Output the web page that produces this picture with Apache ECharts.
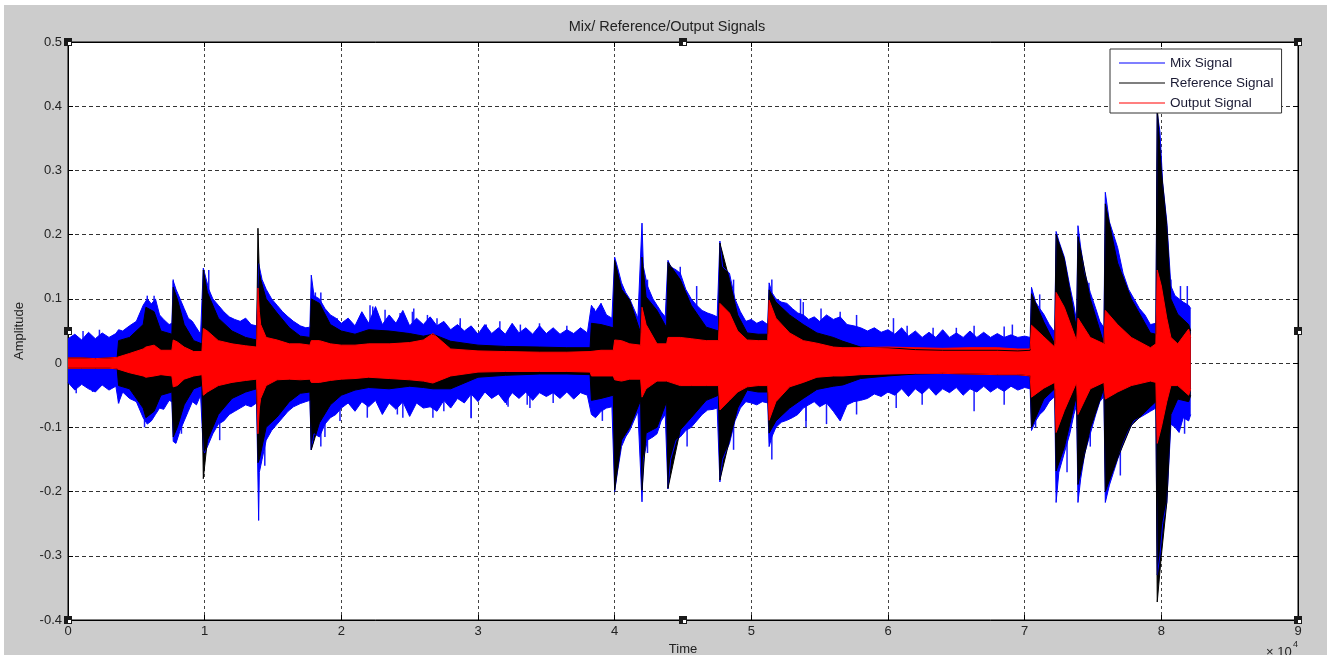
<!DOCTYPE html>
<html>
<head>
<meta charset="utf-8">
<script src="https://cdn.jsdelivr.net/npm/echarts@6/dist/echarts.min.js"></script>
<style>
html,body{margin:0;padding:0;background:#ffffff;overflow:hidden;}
#chart{width:1334px;height:655px;}
</style>
</head>
<body>
<div id="chart"></div>
<script>
// ---- Mix signal (blue): envelope (time in x10^4 samples)
const mixTimes = [0.00,0.05,0.10,0.15,0.20,0.25,0.30,0.35,0.37,0.40,0.45,0.50,0.55,0.58,0.61,0.64,0.67,0.70,0.74,0.76,0.77,0.79,0.82,0.85,0.88,0.91,0.94,0.97,0.99,1.00,1.03,1.06,1.10,1.14,1.18,1.22,1.26,1.30,1.34,1.38,1.395,1.40,1.42,1.45,1.49,1.53,1.57,1.61,1.65,1.70,1.74,1.77,1.78,1.80,1.84,1.88,1.92,1.96,2.00,2.05,2.10,2.15,2.20,2.25,2.30,2.35,2.40,2.45,2.50,2.55,2.60,2.65,2.70,2.75,2.80,2.85,2.90,2.95,3.00,3.05,3.10,3.15,3.20,3.25,3.30,3.35,3.40,3.45,3.50,3.55,3.60,3.65,3.70,3.75,3.80,3.83,3.86,3.90,3.94,3.98,4.00,4.02,4.05,4.08,4.11,4.14,4.17,4.20,4.21,4.24,4.28,4.31,4.34,4.37,4.39,4.41,4.45,4.48,4.52,4.56,4.60,4.64,4.68,4.72,4.75,4.77,4.79,4.84,4.88,4.92,4.96,5.00,5.04,5.08,5.12,5.13,5.15,5.18,5.22,5.26,5.30,5.34,5.38,5.42,5.46,5.50,5.55,5.60,5.65,5.70,5.75,5.80,5.85,5.90,5.95,6.00,6.05,6.10,6.15,6.20,6.25,6.30,6.35,6.40,6.45,6.50,6.55,6.60,6.65,6.70,6.75,6.80,6.85,6.90,6.95,7.00,7.04,7.05,7.08,7.11,7.14,7.18,7.22,7.23,7.25,7.29,7.33,7.36,7.38,7.39,7.41,7.44,7.48,7.52,7.55,7.58,7.59,7.62,7.65,7.68,7.72,7.76,7.80,7.84,7.88,7.92,7.96,7.97,7.99,8.01,8.04,8.07,8.10,8.13,8.16,8.20,8.215];
const mixUpper = [0.038,0.045,0.036,0.048,0.038,0.047,0.040,0.046,0.052,0.050,0.058,0.065,0.090,0.100,0.092,0.100,0.075,0.068,0.060,0.062,0.128,0.115,0.100,0.085,0.070,0.065,0.055,0.045,0.148,0.140,0.115,0.100,0.090,0.080,0.072,0.068,0.065,0.070,0.060,0.058,0.155,0.150,0.130,0.115,0.100,0.090,0.080,0.072,0.065,0.058,0.055,0.056,0.137,0.105,0.100,0.085,0.075,0.070,0.062,0.070,0.058,0.080,0.062,0.088,0.060,0.075,0.062,0.082,0.058,0.070,0.060,0.072,0.058,0.065,0.052,0.060,0.050,0.058,0.045,0.060,0.046,0.055,0.045,0.062,0.047,0.055,0.045,0.058,0.046,0.055,0.045,0.052,0.046,0.055,0.047,0.090,0.080,0.093,0.075,0.070,0.165,0.150,0.125,0.110,0.100,0.085,0.070,0.218,0.150,0.120,0.100,0.090,0.080,0.072,0.160,0.150,0.145,0.140,0.115,0.100,0.090,0.082,0.078,0.075,0.072,0.190,0.150,0.140,0.100,0.080,0.065,0.068,0.062,0.066,0.060,0.125,0.110,0.100,0.095,0.093,0.085,0.078,0.075,0.068,0.072,0.065,0.075,0.068,0.072,0.060,0.058,0.055,0.050,0.055,0.048,0.052,0.045,0.055,0.042,0.050,0.040,0.048,0.040,0.052,0.040,0.047,0.040,0.050,0.040,0.048,0.040,0.046,0.040,0.044,0.040,0.042,0.040,0.118,0.095,0.085,0.076,0.060,0.048,0.205,0.190,0.165,0.120,0.090,0.065,0.214,0.180,0.140,0.110,0.085,0.065,0.055,0.266,0.220,0.200,0.180,0.140,0.115,0.100,0.085,0.075,0.060,0.062,0.390,0.360,0.280,0.220,0.120,0.105,0.100,0.095,0.090,0.085];
const mixLower = [-0.030,-0.042,-0.033,-0.040,-0.045,-0.034,-0.042,-0.036,-0.062,-0.045,-0.055,-0.060,-0.085,-0.095,-0.090,-0.080,-0.070,-0.072,-0.058,-0.060,-0.122,-0.125,-0.105,-0.090,-0.075,-0.060,-0.065,-0.050,-0.135,-0.140,-0.125,-0.110,-0.095,-0.090,-0.080,-0.075,-0.070,-0.065,-0.068,-0.062,-0.245,-0.170,-0.150,-0.120,-0.105,-0.095,-0.085,-0.075,-0.068,-0.063,-0.060,-0.058,-0.135,-0.110,-0.115,-0.095,-0.085,-0.080,-0.070,-0.062,-0.075,-0.060,-0.068,-0.058,-0.080,-0.062,-0.072,-0.060,-0.083,-0.062,-0.070,-0.068,-0.075,-0.058,-0.070,-0.055,-0.062,-0.048,-0.060,-0.045,-0.055,-0.048,-0.062,-0.046,-0.055,-0.045,-0.058,-0.046,-0.052,-0.046,-0.055,-0.045,-0.056,-0.046,-0.050,-0.080,-0.085,-0.075,-0.070,-0.068,-0.200,-0.170,-0.130,-0.115,-0.105,-0.090,-0.075,-0.216,-0.150,-0.120,-0.115,-0.110,-0.090,-0.080,-0.196,-0.150,-0.120,-0.115,-0.105,-0.100,-0.090,-0.080,-0.073,-0.072,-0.070,-0.185,-0.150,-0.125,-0.090,-0.070,-0.060,-0.062,-0.065,-0.060,-0.062,-0.130,-0.115,-0.100,-0.092,-0.089,-0.085,-0.080,-0.070,-0.065,-0.060,-0.068,-0.062,-0.075,-0.090,-0.065,-0.060,-0.058,-0.055,-0.048,-0.052,-0.045,-0.050,-0.040,-0.052,-0.040,-0.048,-0.038,-0.050,-0.040,-0.046,-0.038,-0.050,-0.040,-0.045,-0.036,-0.045,-0.038,-0.044,-0.036,-0.042,-0.038,-0.040,-0.105,-0.090,-0.080,-0.074,-0.060,-0.052,-0.217,-0.170,-0.140,-0.110,-0.080,-0.065,-0.217,-0.180,-0.140,-0.110,-0.080,-0.060,-0.052,-0.217,-0.190,-0.170,-0.150,-0.125,-0.105,-0.090,-0.085,-0.080,-0.075,-0.070,-0.330,-0.300,-0.250,-0.217,-0.095,-0.100,-0.108,-0.085,-0.090,-0.080];

// ---- Isolated thin spikes of the Mix signal
const mixSpikeTimes = [0.06,0.11,0.18,0.23,0.37,0.56,0.58,0.63,0.77,0.83,1.03,1.11,1.44,1.78,1.81,1.85,1.85,1.88,1.97,1.99,2.19,2.21,2.23,2.32,2.41,2.43,2.45,2.52,2.53,2.63,2.67,2.70,2.75,2.87,2.87,2.95,2.95,3.06,3.16,3.21,3.22,3.31,3.36,3.38,3.45,3.55,3.65,3.85,3.90,3.91,4.24,4.24,4.48,4.53,4.60,4.87,4.87,5.15,5.15,5.36,5.38,5.40,5.40,5.51,5.55,5.65,5.77,5.77,6.04,6.06,6.14,6.25,6.33,6.50,6.63,6.63,6.85,6.85,6.91,7.08,7.11,7.31,7.47,7.48,7.70,7.75,8.04,8.07,8.14,8.17,8.19];
const mixSpikeValues = [-0.047,0.050,-0.045,0.052,-0.063,-0.100,0.105,0.105,0.130,-0.110,0.145,-0.120,-0.160,-0.135,0.110,0.110,-0.130,-0.115,0.070,-0.090,-0.085,0.090,0.088,0.083,-0.080,0.078,-0.085,0.080,0.085,0.075,-0.085,0.070,-0.075,0.063,0.070,-0.085,-0.086,0.060,0.065,-0.065,-0.068,0.060,-0.065,-0.070,0.062,-0.062,0.058,0.085,0.093,-0.090,0.130,-0.140,0.150,-0.130,0.120,0.130,-0.135,0.130,-0.150,0.100,0.095,-0.090,-0.100,0.085,-0.095,0.080,0.075,-0.080,0.070,-0.070,0.058,-0.065,0.055,0.055,0.058,-0.075,0.057,-0.065,0.060,-0.100,0.107,-0.170,0.125,-0.130,-0.175,0.120,-0.200,0.130,0.120,-0.110,0.120];

// ---- Reference (black) and Output (red) signals: envelopes on shared knots
const envTimes = [0.00,0.10,0.20,0.30,0.36,0.37,0.45,0.55,0.57,0.63,0.68,0.76,0.77,0.80,0.85,0.92,0.98,0.99,1.02,1.10,1.20,1.30,1.38,1.39,1.40,1.41,1.45,1.53,1.62,1.70,1.77,1.78,1.84,1.92,2.00,2.10,2.20,2.35,2.50,2.60,2.67,2.80,3.00,3.20,3.45,3.65,3.82,3.83,3.90,3.99,4.00,4.05,4.11,4.19,4.20,4.23,4.31,4.38,4.39,4.48,4.56,4.67,4.76,4.77,4.84,4.90,4.97,5.05,5.12,5.13,5.18,5.28,5.38,5.48,5.60,5.67,5.80,6.00,6.20,6.40,6.60,6.80,6.95,7.04,7.05,7.14,7.22,7.23,7.29,7.38,7.39,7.48,7.58,7.59,7.68,7.78,7.92,7.96,7.97,8.00,8.04,8.07,8.12,8.20,8.215];
const refUpper = [0.008,0.008,0.007,0.008,0.009,0.035,0.040,0.060,0.087,0.080,0.050,0.045,0.118,0.100,0.060,0.035,0.030,0.145,0.110,0.070,0.050,0.040,0.036,0.210,0.140,0.130,0.100,0.078,0.055,0.042,0.040,0.100,0.093,0.060,0.050,0.045,0.052,0.050,0.046,0.042,0.045,0.034,0.028,0.026,0.025,0.024,0.024,0.062,0.060,0.055,0.160,0.115,0.098,0.047,0.165,0.103,0.082,0.055,0.157,0.130,0.090,0.056,0.050,0.187,0.130,0.075,0.047,0.045,0.045,0.114,0.095,0.075,0.060,0.047,0.040,0.034,0.025,0.024,0.021,0.020,0.020,0.020,0.019,0.020,0.108,0.064,0.030,0.200,0.162,0.053,0.197,0.100,0.030,0.248,0.156,0.100,0.047,0.045,0.400,0.300,0.214,0.100,0.076,0.060,0.050];
const refLower = [-0.008,-0.008,-0.008,-0.008,-0.009,-0.035,-0.040,-0.070,-0.085,-0.075,-0.050,-0.045,-0.115,-0.100,-0.065,-0.040,-0.035,-0.180,-0.120,-0.080,-0.055,-0.045,-0.040,-0.155,-0.150,-0.150,-0.100,-0.084,-0.060,-0.047,-0.045,-0.135,-0.093,-0.065,-0.050,-0.042,-0.038,-0.040,-0.036,-0.038,-0.040,-0.040,-0.022,-0.019,-0.017,-0.017,-0.018,-0.058,-0.055,-0.050,-0.198,-0.120,-0.100,-0.058,-0.198,-0.109,-0.100,-0.060,-0.195,-0.104,-0.085,-0.058,-0.050,-0.182,-0.120,-0.070,-0.042,-0.045,-0.045,-0.109,-0.090,-0.070,-0.055,-0.041,-0.036,-0.034,-0.024,-0.020,-0.017,-0.016,-0.017,-0.018,-0.018,-0.020,-0.100,-0.056,-0.040,-0.168,-0.131,-0.050,-0.189,-0.102,-0.039,-0.200,-0.148,-0.097,-0.068,-0.060,-0.372,-0.300,-0.217,-0.080,-0.056,-0.060,-0.050];
const outUpper = [0.008,0.008,0.007,0.008,0.009,0.012,0.015,0.022,0.025,0.028,0.020,0.020,0.036,0.033,0.025,0.018,0.018,0.054,0.050,0.035,0.030,0.027,0.025,0.117,0.080,0.060,0.040,0.036,0.030,0.030,0.028,0.035,0.035,0.030,0.028,0.028,0.030,0.030,0.032,0.036,0.046,0.022,0.019,0.018,0.017,0.017,0.018,0.020,0.020,0.020,0.036,0.035,0.030,0.028,0.087,0.060,0.030,0.030,0.040,0.040,0.038,0.035,0.035,0.093,0.078,0.050,0.036,0.035,0.035,0.098,0.070,0.047,0.035,0.031,0.025,0.024,0.024,0.025,0.024,0.023,0.024,0.024,0.022,0.022,0.059,0.041,0.025,0.110,0.087,0.035,0.070,0.040,0.030,0.082,0.060,0.040,0.024,0.030,0.145,0.120,0.070,0.040,0.030,0.053,0.040];
const outLower = [-0.008,-0.008,-0.008,-0.008,-0.009,-0.012,-0.015,-0.020,-0.022,-0.020,-0.018,-0.020,-0.037,-0.035,-0.025,-0.020,-0.018,-0.050,-0.045,-0.035,-0.030,-0.027,-0.025,-0.110,-0.070,-0.055,-0.035,-0.026,-0.025,-0.026,-0.025,-0.030,-0.030,-0.027,-0.025,-0.024,-0.022,-0.024,-0.026,-0.028,-0.031,-0.020,-0.014,-0.013,-0.013,-0.013,-0.014,-0.020,-0.020,-0.020,-0.026,-0.028,-0.025,-0.025,-0.053,-0.040,-0.028,-0.028,-0.030,-0.035,-0.035,-0.035,-0.035,-0.073,-0.058,-0.045,-0.037,-0.035,-0.035,-0.089,-0.060,-0.037,-0.030,-0.022,-0.020,-0.020,-0.018,-0.017,-0.016,-0.016,-0.017,-0.018,-0.018,-0.020,-0.053,-0.039,-0.030,-0.108,-0.074,-0.030,-0.080,-0.040,-0.030,-0.056,-0.045,-0.035,-0.028,-0.030,-0.125,-0.100,-0.060,-0.035,-0.035,-0.050,-0.040];

const xTicks = [0,1,2,3,4,5,6,7,8,9];
const yTicks = [-0.4,-0.3,-0.2,-0.1,0,0.1,0.2,0.3,0.4,0.5];
const seriesNames = ['Mix Signal','Reference Signal','Output Signal'];
const seriesColors = ['#0000ff','#000000','#ff0000'];

const FONT = '"Liberation Sans", Arial, sans-serif';
const pair = (ts, arr) => ts.map((t,i) => [t, arr[i]]);

function band(name, color, data) {
  return {
    name: name, type: 'line', data: data, symbol: 'none', showSymbol: false,
    lineStyle: {color: color, width: 1}, itemStyle: {color: color},
    areaStyle: {color: color, opacity: 1, origin: 0},
    animation: false, silent: true, xAxisIndex: 0, yAxisIndex: 0
  };
}
const series = [
  band(seriesNames[0], seriesColors[0], pair(mixTimes, mixUpper)),
  band(seriesNames[0], seriesColors[0], pair(mixTimes, mixLower)),
  {
    name: seriesNames[0], type: 'bar', data: pair(mixSpikeTimes, mixSpikeValues),
    barWidth: 1.5, itemStyle: {color: '#1a1aff'}, animation: false, silent: true,
    xAxisIndex: 0, yAxisIndex: 0
  },
  band(seriesNames[1], seriesColors[1], pair(envTimes, refUpper)),
  band(seriesNames[1], seriesColors[1], pair(envTimes, refLower)),
  band(seriesNames[2], seriesColors[2], pair(envTimes, outUpper)),
  band(seriesNames[2], seriesColors[2], pair(envTimes, outLower))
];

const GL = 68, GT = 42, GW = 1230, GH = 578;
function handle(cx, cy) {
  return [
    {type:'rect', shape:{x:cx-4, y:cy-4, width:8, height:8}, style:{fill:'#1a1a1a'}, z:100, silent:true},
    {type:'rect', shape:{x:cx, y:cy, width:3, height:3}, style:{fill:'#ffffff'}, z:101, silent:true}
  ];
}
const handles = [].concat(
  handle(GL, GT), handle(GL+GW/2, GT), handle(GL+GW, GT),
  handle(GL, GT+GH/2), handle(GL+GW, GT+GH/2),
  handle(GL, GT+GH), handle(GL+GW/2, GT+GH), handle(GL+GW, GT+GH)
);

const chart = echarts.init(document.getElementById('chart'), null, {renderer:'canvas'});
const tick = {show: true, inside: true, length: 5, lineStyle: {color: '#000000'}};
chart.setOption({
  animation: false,
  backgroundColor: '#ffffff',
  textStyle: {fontFamily: FONT},
  title: {
    text: 'Mix/ Reference/Output Signals', left: 'center', top: 14,
    textStyle: {fontFamily: FONT, fontSize: 14.5, fontWeight: 'normal', color: '#222222'}
  },
  legend: {
    data: seriesNames, orient: 'vertical', left: 1110, top: 49,
    padding: [7, 8, 3, 9], itemGap: 6, itemWidth: 46, itemHeight: 12,
    borderColor: '#333333', borderWidth: 1, borderRadius: 0, backgroundColor: '#ffffff',
    textStyle: {fontFamily: FONT, fontSize: 13.5, color: '#1a1a33'},
    selectedMode: false, icon: 'path://M0,0 L46,0 L46,1.2 L0,1.2 Z',
    itemStyle: {opacity: 1},
    z: 50
  },
  graphic: [
    {type:'rect', shape:{x:4, y:5, width:1323, height:660}, style:{fill:'#cccccc'}, z:-10, silent:true}
  ].concat(handles).concat([
    {type:'text', left: 1266, top: 646, style:{text:'\u00d7 10', font:'13px "Liberation Sans", Arial', fill:'#222222'}, z:100, silent:true},
    {type:'text', left: 1293, top: 640, style:{text:'4', font:'9px "Liberation Sans", Arial', fill:'#222222'}, z:100, silent:true}
  ]),
  grid: {left: GL, top: GT, width: GW, height: GH, show: true, backgroundColor: '#ffffff', borderColor: '#000000', borderWidth: 1, containLabel: false, outerBoundsMode: 'none'},
  xAxis: [{
    type: 'value', min: xTicks[0], max: xTicks[xTicks.length-1], interval: 1,
    name: 'Time', nameLocation: 'middle', nameGap: 22,
    nameTextStyle: {fontFamily: FONT, fontSize: 13, color: '#222222'},
    axisLine: {show: true, onZero: false, lineStyle: {color: '#000000', width: 1}},
    axisTick: tick,
    axisLabel: {fontFamily: FONT, fontSize: 13, color: '#222222', margin: 5},
    splitLine: {show: true, lineStyle: {color:'#444444', type:[3,3], width:1}}
  },{
    type: 'value', position: 'top', min: xTicks[0], max: xTicks[xTicks.length-1], interval: 1,
    axisLine: {show: true, onZero: false, lineStyle: {color: '#000000'}},
    axisTick: tick, axisLabel: {show: false}, splitLine: {show: false}
  }],
  yAxis: [{
    type: 'value', min: yTicks[0], max: yTicks[yTicks.length-1], interval: 0.1,
    name: 'Amplitude', nameLocation: 'middle', nameGap: 42, nameRotate: 90,
    nameTextStyle: {fontFamily: FONT, fontSize: 13, color: '#222222'},
    axisLine: {show: true, onZero: false, lineStyle: {color: '#000000', width: 1}},
    axisTick: tick,
    axisLabel: {fontFamily: FONT, fontSize: 13, color: '#222222', margin: 6,
      formatter: v => String(parseFloat(v.toFixed(1)))},
    splitLine: {show: true, lineStyle: {color:'#333333', type:[4,3], width:1}}
  },{
    type: 'value', position: 'right', min: yTicks[0], max: yTicks[yTicks.length-1], interval: 0.1,
    axisLine: {show: true, onZero: false, lineStyle: {color: '#000000'}},
    axisTick: tick, axisLabel: {show: false}, splitLine: {show: false}
  }],
  series: series
});
</script>
</body>
</html>
